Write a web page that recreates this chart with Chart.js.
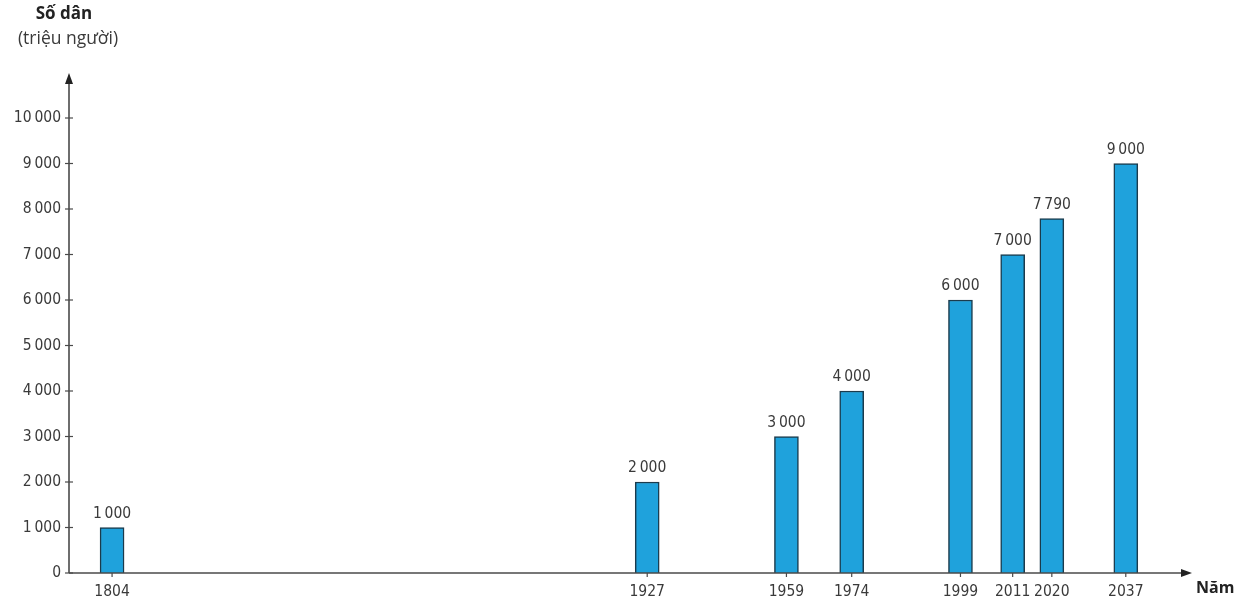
<!DOCTYPE html>
<html>
<head>
<meta charset="utf-8">
<script src="https://cdn.jsdelivr.net/npm/chart.js@4"></script>
<style>
  html, body { margin: 0; padding: 0; background: #fff; }
  #wrap { width: 1242px; height: 598px; }
</style>
</head>
<body>
<div id="wrap"><canvas id="chart" width="1242" height="598"></canvas></div>
<script>
// data
const years = [1804, 1927, 1959, 1974, 1999, 2011, 2020, 2037];
const population = [1000, 2000, 3000, 4000, 6000, 7000, 7790, 9000];
const yTicks = [0, 1000, 2000, 3000, 4000, 5000, 6000, 7000, 8000, 9000, 10000];

const FONT = '"Liberation Sans Narrow", "DejaVu Sans Condensed", sans-serif';
const AXIS = '#4a4a4a';
const TEXT = '#3a3a3a';

const fmt = v => String(v).replace(/\B(?=(\d{3})+(?!\d))/g, '\u2009');

// axes with arrows, tick crosses, value labels and titles
const decor = {
  id: 'decor',
  afterDraw(chart) {
    const { ctx, chartArea: a, scales: { x, y } } = chart;
    ctx.save();
    ctx.strokeStyle = AXIS;
    ctx.fillStyle = '#222';
    ctx.lineWidth = 1.6;

    const y0 = y.getPixelForValue(0);
    // y axis
    ctx.beginPath();
    ctx.moveTo(a.left, y0);
    ctx.lineTo(a.left, 80);
    ctx.stroke();
    ctx.beginPath();
    ctx.moveTo(a.left, 73); ctx.lineTo(a.left - 4, 84); ctx.lineTo(a.left + 4, 84);
    ctx.closePath(); ctx.fill();
    // x axis
    ctx.beginPath();
    ctx.moveTo(a.left, y0);
    ctx.lineTo(1184, y0);
    ctx.stroke();
    ctx.beginPath();
    ctx.moveTo(1192, y0); ctx.lineTo(1181, y0 - 4); ctx.lineTo(1181, y0 + 4);
    ctx.closePath(); ctx.fill();

    // y tick crosses
    ctx.lineWidth = 1.2;
    yTicks.forEach(v => {
      const py = y.getPixelForValue(v);
      ctx.beginPath();
      ctx.moveTo(a.left - 4, py); ctx.lineTo(a.left + 4, py);
      ctx.stroke();
    });
    // x tick marks
    years.forEach(v => {
      const px = x.getPixelForValue(v);
      ctx.beginPath();
      ctx.moveTo(px, y0); ctx.lineTo(px, y0 + 4);
      ctx.stroke();
    });

    // value labels
    const meta = chart.getDatasetMeta(0);
    ctx.fillStyle = TEXT;
    ctx.font = '15.5px ' + FONT;
    ctx.textAlign = 'center';
    ctx.textBaseline = 'bottom';
    meta.data.forEach((bar, i) => {
      ctx.fillText(fmt(population[i]), bar.x, bar.y - 6);
    });

    // titles
    ctx.fillStyle = '#222';
    ctx.font = 'bold 17px "Open Sans", "DejaVu Sans", sans-serif';
    ctx.textBaseline = 'middle';
    ctx.fillText('Số dân', 64, 14);
    ctx.font = '17.5px "Open Sans", "DejaVu Sans", sans-serif';
    ctx.fillStyle = TEXT;
    ctx.fillText('(triệu người)', 68, 39);
    ctx.font = 'bold 16px "Open Sans", "DejaVu Sans", sans-serif';
    ctx.fillStyle = '#222';
    ctx.textAlign = 'left';
    ctx.fillText('Năm', 1196, 588);
    ctx.restore();
  }
};

new Chart(document.getElementById('chart'), {
  type: 'bar',
  data: {
    datasets: [{
      data: years.map((yr, i) => ({ x: yr, y: population[i] })),
      backgroundColor: '#1fa2dc',
      borderColor: '#1b3b4c',
      borderWidth: 1.5,
      barThickness: 24
    }]
  },
  options: {
    responsive: false,
    animation: false,
    layout: { padding: { top: 118, right: 64, bottom: 0, left: 0 } },
    plugins: { legend: { display: false }, tooltip: { enabled: false } },
    scales: {
      x: {
        type: 'linear',
        offset: false,
        min: 1794.1,
        max: 2049,
        afterBuildTicks: s => { s.ticks = years.map(v => ({ value: v })); },
        afterFit: s => { s.height = 25; },
        grid: { display: false, offset: false },
        border: { display: false },
        ticks: {
          autoSkip: false,
          maxRotation: 0,
          padding: 2,
          color: TEXT,
          font: { family: FONT, size: 15.5 },
          callback: v => String(v)
        }
      },
      y: {
        min: 0,
        max: 10000,
        afterBuildTicks: s => { s.ticks = yTicks.map(v => ({ value: v })); },
        afterFit: s => { s.width = 69; },
        grid: { display: false },
        border: { display: false },
        ticks: {
          padding: 0,
          color: TEXT,
          font: { family: FONT, size: 15.5 },
          callback: v => fmt(v)
        }
      }
    }
  },
  plugins: [decor]
});
</script>
</body>
</html>
